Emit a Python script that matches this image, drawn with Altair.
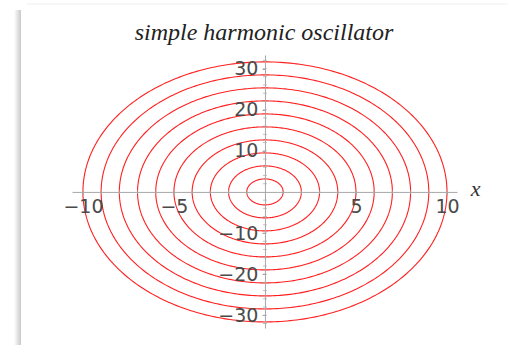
import numpy as np
import pandas as pd
import altair as alt

# Phase-space orbits of a harmonic oscillator: x^2 + p^2/omega^2 = A^2
amplitudes = [1, 2, 3, 4, 5, 6, 7, 8, 9, 10]
omega_sq = 10
x_ticks = [-10, -5, 5, 10]
y_ticks = [-30, -20, -10, 10, 20, 30]
x_minor = [-10, -9, -8, -7, -6, -5, -4, -3, -2, -1, 1, 2, 3, 4, 5, 6, 7, 8, 9, 10]
y_minor = [-32, -30, -28, -26, -24, -22, -20, -18, -16, -14, -12, -10, -8, -6, -4, -2,
           2, 4, 6, 8, 10, 12, 14, 16, 18, 20, 22, 24, 26, 28, 30, 32]
plot_title = "simple harmonic oscillator"

omega = np.sqrt(omega_sq)
theta = np.linspace(0, 2 * np.pi, 361)
orbits = pd.DataFrame(
    [
        {"A": a, "i": i, "x": a * np.cos(t), "p": a * omega * np.sin(t)}
        for a in amplitudes
        for i, t in enumerate(theta)
    ]
)

W, H = 385, 273
X_DOM = [-10.6, 10.55]
Y_DOM = [-33.1, 33.3]
x0_px = W * (0 - X_DOM[0]) / (X_DOM[1] - X_DOM[0])
y0_px = H * (Y_DOM[1] - 0) / (Y_DOM[1] - Y_DOM[0])

xscale = alt.Scale(domain=X_DOM, nice=False, zero=False)
yscale = alt.Scale(domain=Y_DOM, nice=False, zero=False)

label_font = "DejaVu Sans"
label_color = "#4a4a4a"
axis_gray = "#a8a8a8"

x_axis = alt.Axis(
    values=x_ticks, offset=-(H - y0_px), grid=False, zindex=1,
    domainColor=axis_gray, domainWidth=1, tickColor=axis_gray, tickSize=3,
    labelFont=label_font, labelFontSize=19, labelColor=label_color, labelPadding=3,
    title="x", titleFont="Liberation Serif", titleFontStyle="italic",
    titleFontWeight="normal", titleFontSize=22, titleColor="#333333",
    titleX=W + 18, titleY=4, titleBaseline="alphabetic", titleAlign="center",
)
y_axis = alt.Axis(
    values=y_ticks, offset=-x0_px, grid=False, zindex=1,
    domainColor=axis_gray, domainWidth=1, tickColor=axis_gray, tickSize=3,
    labelFont=label_font, labelFontSize=19, labelColor=label_color, labelPadding=4,
    title=None,
)

# notebook cell frame: soft shadow on the left edge and a faint top edge
frame = pd.DataFrame({"k": [0]})
shadow = alt.Chart(frame).mark_rect(
    color=alt.Gradient(
        gradient="linear", x1=0, x2=1, y1=0, y2=0,
        stops=[alt.GradientStop(color="#ffffff", offset=0),
               alt.GradientStop(color="#c9c9c9", offset=1)],
    ),
).encode(x=alt.value(-58), x2=alt.value(-51), y=alt.value(-45), y2=alt.value(300))
top_edge = alt.Chart(frame).mark_rule(color="#f0f0f0", strokeWidth=1).encode(
    x=alt.value(-45), x2=alt.value(W + 60), y=alt.value(-51)
)

title_text = alt.Chart(pd.DataFrame({"t": [plot_title]})).mark_text(
    font="Liberation Serif", fontStyle="italic", fontSize=24, color="#222222",
    align="center", baseline="alphabetic",
).encode(text="t:N", x=alt.value(W / 2 - 0.5), y=alt.value(-15))

rings = alt.Chart(orbits).mark_line(color="#ff2020", strokeWidth=1.1, clip=False).encode(
    x=alt.X("x:Q", scale=xscale, axis=x_axis),
    y=alt.Y("p:Q", scale=yscale, axis=y_axis),
    detail="A:N",
    order="i:Q",
)

minor_x = alt.Chart(pd.DataFrame({"x": x_minor, "p": [0] * len(x_minor)})).mark_tick(
    color=axis_gray, thickness=1, size=4, orient="vertical"
).encode(x=alt.X("x:Q", scale=xscale), y=alt.Y("p:Q", scale=yscale))
minor_y = alt.Chart(pd.DataFrame({"p": y_minor, "x": [0] * len(y_minor)})).mark_tick(
    color=axis_gray, thickness=1, size=4, orient="horizontal"
).encode(x=alt.X("x:Q", scale=xscale), y=alt.Y("p:Q", scale=yscale))

chart = (
    alt.layer(rings, shadow, top_edge, minor_x, minor_y, title_text)
    .properties(
        width=W, height=H,
        padding={"left": 72, "top": 55, "right": 51, "bottom": 17},
        autosize=alt.AutoSizeParams(type="none"),
    )
    .configure(background="#ffffff", view=alt.ViewConfig(stroke="transparent", strokeWidth=0))
)

chart.save("out.html", embed_options={"renderer": "svg", "actions": False})
